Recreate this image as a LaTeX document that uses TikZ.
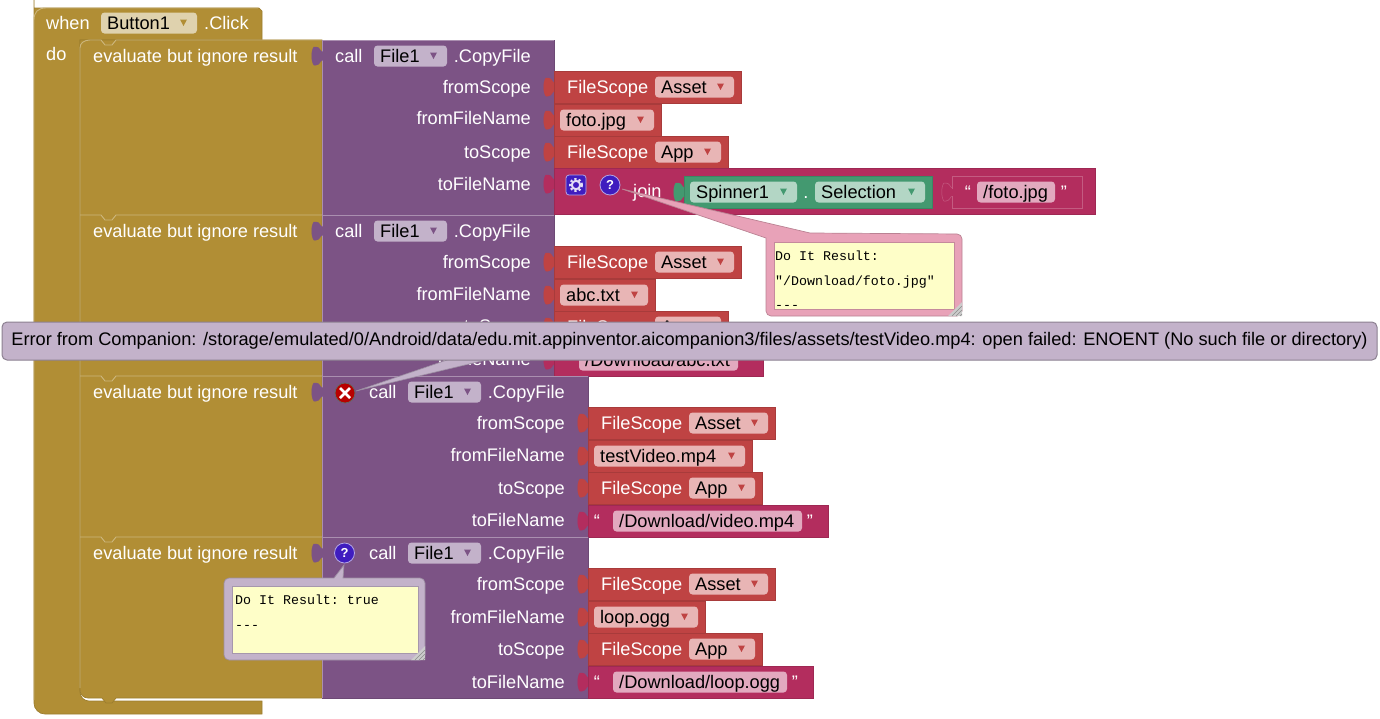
\documentclass[tikz,border=0pt]{standalone}
\usepackage{fontspec}
\setmainfont{Liberation Sans}
\setmonofont{Liberation Mono}

\definecolor{goldblk}{HTML}{B18E35}
\definecolor{goldfld}{HTML}{DFD2AE}
\definecolor{purpleblk}{HTML}{7C5385}
\definecolor{purplefld}{HTML}{C3B2CA}
\definecolor{redblk}{HTML}{BF4343}
\definecolor{redfld}{HTML}{E8B5B5}
\definecolor{textblk}{HTML}{B32D5E}
\definecolor{textfld}{HTML}{E2A9BF}
\definecolor{greenblk}{HTML}{439970}
\definecolor{greenfld}{HTML}{B3D6C5}
\definecolor{pinkbub}{HTML}{E8A2B8}
\definecolor{noteyellow}{HTML}{FEFEC8}
\definecolor{iconblue}{HTML}{3F1DBF}

\tikzset{
  blk/.style={fill=#1, draw=#1!88!black, line width=0.7pt},
  lbl/.style={text=white, inner sep=0pt, font=\fontsize{18.2}{20}\selectfont},
  fldtxt/.style={text=black, inner sep=0pt, font=\fontsize{18.2}{20}\selectfont},
  note/.style={text=black, inner sep=0pt, anchor=base west, font=\ttfamily\fontsize{13.3}{15}\selectfont},
  light/.style={draw=white!35!#1, line width=0.9pt},
  grip/.style={draw=black!45, line width=0.5pt},
}

% socket tab: colour, rim colour, x of the block edge, centre y
\newcommand{\socket}[4]{
  \filldraw[fill=#1, draw=#2, line width=0.5pt] (#3+1,#4-4) .. controls (#3-2,#4-4) and (#3-2,#4-9) .. (#3-6,#4-9)
    -- (#3-8,#4-9) .. controls (#3-11,#4-6) and (#3-11,#4+6) .. (#3-8,#4+9) -- (#3-6,#4+9)
    .. controls (#3-2,#4+9) and (#3-2,#4+4) .. (#3+1,#4+4) -- cycle;
}
% drop down: field colour, mark colour, name, x0, x1, centre y, text
\newcommand{\dropfield}[7]{
  \fill[#1, rounded corners=3.5pt] (#4,#6-10.5) rectangle (#5,#6+10.5);
  \node[fldtxt, anchor=base west] (#3) at (#4+6,#6+6) {#7};
  \fill[#2] (#5-17,#6-3.5) -- (#5-10,#6-3.5) -- (#5-13.5,#6+3) -- cycle;
}
% FileScope row: name, x, top, x end of field, x end of block, field text
\newcommand{\scoperow}[6]{
  \socket{redblk}{redblk}{#2}{#3+16}
  \filldraw[blk=redblk] (#2,#3) rectangle (#5,#3+32);
  \node[lbl, anchor=base west] (#1) at (#2+13,#3+22) {FileScope};
  \dropfield{redfld}{redblk}{#1f}{#2+101}{#4}{#3+16}{#6}
}
% file name row: name, x, top, x end of block, text
\newcommand{\namerow}[5]{
  \socket{redblk}{redblk}{#2}{#3+16}
  \filldraw[blk=redblk] (#2,#3) rectangle (#4,#3+32);
  \dropfield{redfld}{redblk}{#1}{#2+6}{#4-7}{#3+16}{#5}
}
% quoted text row: name, x, top, x end of field, x end of block, text
\newcommand{\quoterow}[6]{
  \socket{textblk}{textblk}{#2}{#3+16}
  \filldraw[blk=textblk] (#2,#3) rectangle (#5,#3+32);
  \node[lbl, anchor=base] (#1a) at (#2+9,#3+22) {“};
  \fill[textfld, rounded corners=3.5pt] (#2+25,#3+5.5) rectangle (#4,#3+26.5);
  \node[fldtxt, anchor=base west] (#1) at (#2+31,#3+22) {#6};
  \node[lbl, anchor=base] (#1b) at (#4+8,#3+22) {”};
}
% evaluate + call: name, top, bottom, x end of purple, x of call, y of the four labels
\newcommand{\callrow}[9]{
  \filldraw[blk=purpleblk] (322,#2) rectangle (#4,#3);
  \draw[light=purpleblk] (322,#2) -- (#4,#2);
  \draw[light=purpleblk] (322,#2) -- (322,#3);
  \socket{purpleblk}{purpleblk}{322}{#2+16}
  \node[lbl, anchor=base west] (#1e) at (93,#2+22) {evaluate but ignore result};
  \node[lbl, anchor=base west] (#1c) at (#5,#2+22) {call};
  \dropfield{purplefld}{purpleblk}{#1d}{#5+39}{#5+112}{#2+16}{File1}
  \node[lbl, anchor=base east] (#1k) at (#4-23,#2+22) {.CopyFile};
  \node[lbl, anchor=base east] (#1p) at (#4-23,#6) {fromScope};
  \node[lbl, anchor=base east] (#1q) at (#4-23,#7) {fromFileName};
  \node[lbl, anchor=base east] (#1r) at (#4-23,#8) {toScope};
  \node[lbl, anchor=base east] (#1s) at (#4-23,#9) {toFileName};
}
% light edge of a statement with its notch
\newcommand{\notchline}[1]{
  \draw[light=goldblk] (80,#1) -- (101,#1) -- (105,#1+5) -- (112,#1+5) -- (116,#1) -- (322,#1);
}
% resize corner of a bubble: x and y of the outer corner
\newcommand{\gripcorner}[2]{
  \fill[white!80!black] (#1,#2-14) -- (#1,#2) -- (#1-14,#2) -- cycle;
  \draw[grip] (#1,#2-10) -- (#1-10,#2);
  \draw[grip] (#1,#2-6) -- (#1-6,#2);
  \draw[grip] (#1,#2-2) -- (#1-2,#2);
}

\begin{document}
\begin{tikzpicture}[x=1pt, y=-1pt]
  \useasboundingbox (0,0) rectangle (1380,718);

  % when
  \filldraw[blk=goldblk, rounded corners=9pt] (34,8) [sharp corners] -- (259,8) -- (262,11) -- (262,40) -- (80,40)
    [rounded corners=9pt] -- (80,701) [sharp corners] -- (262,701) -- (262,714) [rounded corners=11pt] -- (34,714) -- (34,8) [sharp corners] -- cycle;
  \draw[light=goldblk] (34,700) -- (34,20) .. controls (34,12) and (38,8) .. (46,8) -- (258,8);
  \node[lbl, anchor=base west] (whenlab) at (46,29) {when};
  \dropfield{goldfld}{goldblk}{btnfield}{101}{197}{23}{Button1}
  \node[lbl, anchor=base west] (clicklab) at (204,29) {.Click};
  \node[lbl, anchor=base west] (dolab) at (46,60) {do};

  % evaluate column
  \filldraw[blk=goldblk, rounded corners=8pt] (80,40) -- (80,698) [sharp corners] -- (102,698) -- (106,703) -- (112,703) -- (116,698) -- (322,698) -- (322,40) -- cycle;
  \draw[light=goldblk] (80,688) -- (80,48) .. controls (80,43) and (84,40) .. (90,40) -- (101,40) -- (105,45) -- (112,45) -- (116,40) -- (322,40);
  \notchline{215}
  \notchline{376}
  \notchline{537}

  % first call
  \callrow{a}{40}{215}{554}{335}{93}{124}{158}{190}
  \scoperow{ascope}{554}{71}{734}{741}{Asset}
  \namerow{afrom}{554}{104}{661}{foto.jpg}
  \scoperow{atos}{554}{136}{721}{728}{App}

  % join
  \socket{textblk}{textblk}{554}{184}
  \filldraw[blk=textblk] (554,168) rectangle (1095,214);
  \filldraw[fill=iconblue, draw=white!60!iconblue, line width=0.8pt, rounded corners=3pt] (566,175) rectangle (586,195);
  \draw[white!85!iconblue, line width=2pt] (576,185) circle (4.2);
  \draw[white!85!iconblue, line width=2pt, dash pattern=on 2.2pt off 2.2pt] (576,185) circle (6);
  \node[circle, fill=iconblue, draw=white!60!iconblue, line width=0.8pt, minimum size=20pt, inner sep=0pt, text=white, font=\bfseries\fontsize{13}{15}\selectfont] (joinq) at (610,185) {?};
  \node[lbl, anchor=base west] (joinlab) at (633,197) {join};
  \socket{greenblk}{greenblk}{684}{192}
  \filldraw[blk=greenblk] (684,176) rectangle (932,208);
  \dropfield{greenfld}{greenblk}{spinfield}{690}{797}{192}{Spinner1}
  \node[lbl, anchor=base] (dotlab) at (806,198) {.};
  \dropfield{greenfld}{greenblk}{selfield}{815}{925}{192}{Selection}
  \socket{textblk}{white!22!textblk}{952}{192}
  \filldraw[fill=textblk, draw=white!22!textblk, line width=0.7pt] (952,176) rectangle (1082,208);
  \fill[textblk] (951,188.5) rectangle (953,195.5);
  \node[lbl, anchor=base] (fotoa) at (968,198) {“};
  \fill[textfld, rounded corners=3.5pt] (977,181.5) rectangle (1055,202.5);
  \node[fldtxt, anchor=base west] (fotofld) at (983,198) {/foto.jpg};
  \node[lbl, anchor=base] (fotob) at (1064,198) {”};

  % second call
  \callrow{b}{215}{376}{554}{335}{268}{300}{332}{365}
  \scoperow{bscope}{554}{246}{734}{741}{Asset}
  \namerow{bfrom}{554}{279}{655}{abc.txt}
  \scoperow{btos}{554}{311}{721}{728}{App}
  \quoterow{bto}{554}{344}{738}{763}{/Download/abc.txt}

  % third call
  \callrow{c}{376}{537}{588}{369}{429}{461}{494}{526}
  \scoperow{cscope}{588}{407}{768}{775}{Asset}
  \namerow{cfrom}{588}{440}{752}{testVideo.mp4}
  \scoperow{ctos}{588}{472}{755}{762}{App}
  \quoterow{cto}{588}{505}{802}{828}{/Download/video.mp4}

  % fourth call
  \callrow{d}{537}{698}{588}{369}{590}{623}{655}{688}
  \scoperow{dscope}{588}{568}{768}{775}{Asset}
  \namerow{dfrom}{588}{601}{705}{loop.ogg}
  \scoperow{dtos}{588}{633}{755}{762}{App}
  \quoterow{dto}{588}{666}{787}{813}{/Download/loop.ogg}

  % pink bubble
  \filldraw[fill=pinkbub, draw=pinkbub!80!black, line width=0.7pt] (622,189) -- (810,233) [rounded corners=5pt] -- (962,234) -- (962,316) -- (766,316) [sharp corners] -- (766,238) -- cycle;
  \filldraw[fill=noteyellow, draw=pinkbub!85!black, line width=0.4pt] (774,242) rectangle (954,309);
  \node[note] (pinka) at (775,260) {Do It Result:};
  \node[note] (pinkb) at (775,285) {"/Download/foto.jpg"};
  \node[note] (pinkc) at (775,309) {---};
  \gripcorner{962}{316}

  % purple bubble
  \filldraw[fill=purplefld, draw=purplefld!80!black, line width=0.7pt] (344,565) -- (343,578) [rounded corners=5pt] -- (425,578) -- (425,660) -- (224,660) -- (224,578) [sharp corners] -- (334,578) -- cycle;
  \filldraw[fill=noteyellow, draw=purplefld!85!black, line width=0.4pt] (232,586) rectangle (418,653);
  \node[note] (purpa) at (235,604) {Do It Result: true};
  \node[note] (purpb) at (235,629) {---};
  \gripcorner{425}{660}
  \node[circle, fill=iconblue, draw=white!60!iconblue, line width=0.8pt, minimum size=20pt, inner sep=0pt, text=white, font=\bfseries\fontsize{13}{15}\selectfont] (callq) at (344.5,553) {?};

  % error bubble
  \node[circle, fill=red!72!black, draw=black!60, line width=0.8pt, minimum size=20pt, inner sep=0pt] (callx) at (345,393) {};
  \draw[white, line width=2.6pt] (340,388) -- (350,398);
  \draw[white, line width=2.6pt] (350,388) -- (340,398);
  \filldraw[fill=purplefld, draw=purplefld!80!black, line width=0.6pt] (356,391) -- (450,359) -- (490,359) -- cycle;
  \node[fill=purplefld, draw=purplefld!72!black, line width=1pt, rounded corners=5pt, text=black, minimum width=1375pt, minimum height=38pt, inner sep=0pt, font=\fontsize{18.2}{20}\selectfont] (errbub) at (689.5,341) {Error from Companion: /storage/emulated/0/Android/data/edu.mit.appinventor.aicompanion3/files/assets/testVideo.mp4: open failed: ENOENT (No such file or directory)};
\end{tikzpicture}
\end{document}
